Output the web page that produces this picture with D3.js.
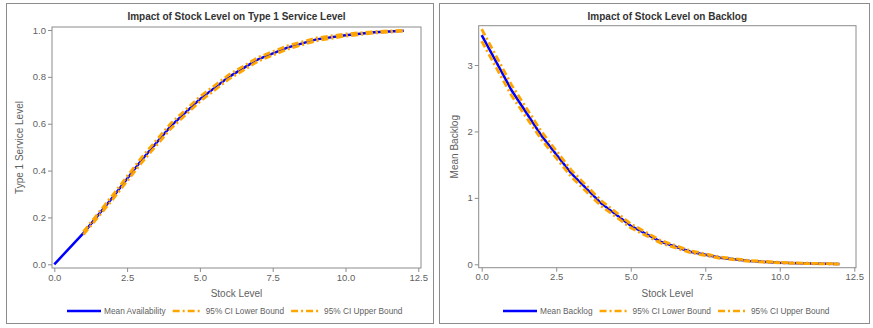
<!DOCTYPE html>
<html>
<head>
<meta charset="UTF-8">
<script src="https://d3js.org/d3.v7.min.js"></script>
<style>
    body { margin: 0; background: #fff; }
    svg text { font-family: "Liberation Sans", Arial, sans-serif; }
</style>
</head>
<body>
<svg id="chart" width="873" height="328"></svg>
<script>
// stock levels simulated
var stock = [0, 1, 2, 3, 4, 5, 6, 7, 8, 9, 10, 11, 12];

// type 1 service level (no CI at stock 0)
var availMean  = [0, 0.133, 0.285, 0.445, 0.590, 0.705, 0.800, 0.875, 0.925, 0.960, 0.978, 0.990, 0.997];
var availLower = [null, 0.127, 0.276, 0.434, 0.579, 0.695, 0.791, 0.867, 0.918, 0.954, 0.974, 0.987, 0.995];
var availUpper = [null, 0.139, 0.294, 0.456, 0.601, 0.715, 0.809, 0.883, 0.932, 0.966, 0.983, 0.993, 0.999];

// mean backlog
var backlogMean  = [3.45, 2.62, 1.94, 1.37, 0.92, 0.58, 0.34, 0.19, 0.10, 0.050, 0.025, 0.012, 0.005];
var backlogLower = [3.36, 2.54, 1.88, 1.32, 0.88, 0.55, 0.32, 0.175, 0.09, 0.043, 0.020, 0.009, 0.003];
var backlogUpper = [3.54, 2.70, 2.00, 1.42, 0.96, 0.61, 0.36, 0.205, 0.11, 0.057, 0.030, 0.015, 0.007];

var xTicks = [0, 2.5, 5, 7.5, 10, 12.5];
var availTicks = [0, 0.2, 0.4, 0.6, 0.8, 1.0];
var backlogTicks = [0, 1, 2, 3];

var panels = [
    {
        title: "Impact of Stock Level on Type 1 Service Level",
        ylabel: "Type 1 Service Level",
        box: {x0: 6, x1: 433, y0: 3, y1: 323},
        frame: {left: 52, right: 421, top: 27, bottom: 268},
        xRange: [54.3, 418.3],
        yDomain: [0, 1], yRange: [264.3, 30],
        yTicks: availTicks, yFmt: d3.format(".1f"), ylabelX: 19,
        mean: availMean, lower: availLower, upper: availUpper,
        meanName: "Mean Availability",
        legendX: 67
    },
    {
        title: "Impact of Stock Level on Backlog",
        ylabel: "Mean Backlog",
        box: {x0: 439, x1: 869, y0: 3, y1: 323},
        frame: {left: 478.7, right: 856, top: 25.7, bottom: 267.7},
        xRange: [481.7, 854.3],
        yDomain: [0, 3], yRange: [264.3, 65],
        yTicks: backlogTicks, yFmt: d3.format("d"), ylabelX: 454,
        mean: backlogMean, lower: backlogLower, upper: backlogUpper,
        meanName: "Mean Backlog",
        legendX: 503
    }
];

var svg = d3.select("#chart");
var tickColor = "#5f5f5f";
var dashDot = "7,3,2,3";

panels.forEach(function(p) {
    var g = svg.append("g");

    g.append("rect")
        .attr("x", p.box.x0 + 0.5).attr("y", p.box.y0 + 0.5)
        .attr("width", p.box.x1 - p.box.x0).attr("height", p.box.y1 - p.box.y0)
        .attr("fill", "#fff").attr("stroke", "#8c8c8c").attr("stroke-width", 1);

    var x = d3.scaleLinear().domain([0, 12.5]).range(p.xRange);
    var y = d3.scaleLinear().domain(p.yDomain).range(p.yRange);

    // plot frame
    g.append("rect")
        .attr("x", p.frame.left).attr("y", p.frame.top)
        .attr("width", p.frame.right - p.frame.left)
        .attr("height", p.frame.bottom - p.frame.top)
        .attr("fill", "none").attr("stroke", "#8c8c8c").attr("stroke-width", 1);

    var xAxis = g.append("g")
        .attr("transform", "translate(0," + p.frame.bottom + ")")
        .call(d3.axisBottom(x).tickValues(xTicks).tickFormat(d3.format(".1f"))
            .tickSizeInner(4).tickSizeOuter(0).tickPadding(2));
    var yAxis = g.append("g")
        .attr("transform", "translate(" + p.frame.left + ",0)")
        .call(d3.axisLeft(y).tickValues(p.yTicks).tickFormat(p.yFmt)
            .tickSizeInner(4).tickSizeOuter(0).tickPadding(2));
    [xAxis, yAxis].forEach(function(a) {
        a.select(".domain").remove();
        a.selectAll("line").attr("stroke", "#8c8c8c");
        a.selectAll("text").attr("fill", tickColor)
            .style("font-size", "9.5px");
    });

    g.append("text")
        .attr("x", (p.frame.left + p.frame.right) / 2).attr("y", 19.5)
        .attr("text-anchor", "middle")
        .style("font-size", "10px").style("font-weight", "bold")
        .attr("fill", "#333").text(p.title);

    g.append("text")
        .attr("x", (p.frame.left + p.frame.right) / 2).attr("y", 297)
        .attr("text-anchor", "middle")
        .style("font-size", "10px").attr("fill", tickColor)
        .text("Stock Level");

    g.append("text")
        .attr("transform", "translate(" + (p.ylabelX + 3.5) + "," + ((p.frame.top + p.frame.bottom) / 2) + ")rotate(-90)")
        .attr("text-anchor", "middle")
        .style("font-size", "10px").attr("fill", tickColor)
        .text(p.ylabel);

    function line(vals) {
        return d3.line()
            .defined(function(d, i) { return vals[i] != null; })
            .x(function(d) { return x(d); })
            .y(function(d, i) { return y(vals[i]); })(stock);
    }

    g.append("path").attr("d", line(p.mean))
        .attr("fill", "none").attr("stroke", "#0000ff").attr("stroke-width", 2.5);
    [p.lower, p.upper].forEach(function(vals) {
        g.append("path").attr("d", line(vals))
            .attr("fill", "none").attr("stroke", "#ffa500").attr("stroke-width", 2.8)
            .attr("stroke-dasharray", dashDot);
    });

    // legend
    var items = [
        {name: p.meanName, color: "#0000ff", dash: null},
        {name: "95% CI Lower Bound", color: "#ffa500", dash: dashDot},
        {name: "95% CI Upper Bound", color: "#ffa500", dash: dashDot}
    ];
    var lx = p.legendX, ly = 311;
    items.forEach(function(it, i) {
        var len = i == 0 ? 34 : 30;
        g.append("line")
            .attr("x1", lx).attr("x2", lx + len).attr("y1", ly).attr("y2", ly)
            .attr("stroke", it.color).attr("stroke-width", 2.5)
            .attr("stroke-dasharray", it.dash);
        var t = g.append("text")
            .attr("x", lx + len + 3).attr("y", ly + 3)
            .style("font-size", "8.3px").attr("fill", tickColor)
            .text(it.name);
        lx += len + 3 + t.node().getComputedTextLength() + 7;
    });
});
</script>
</body>
</html>
